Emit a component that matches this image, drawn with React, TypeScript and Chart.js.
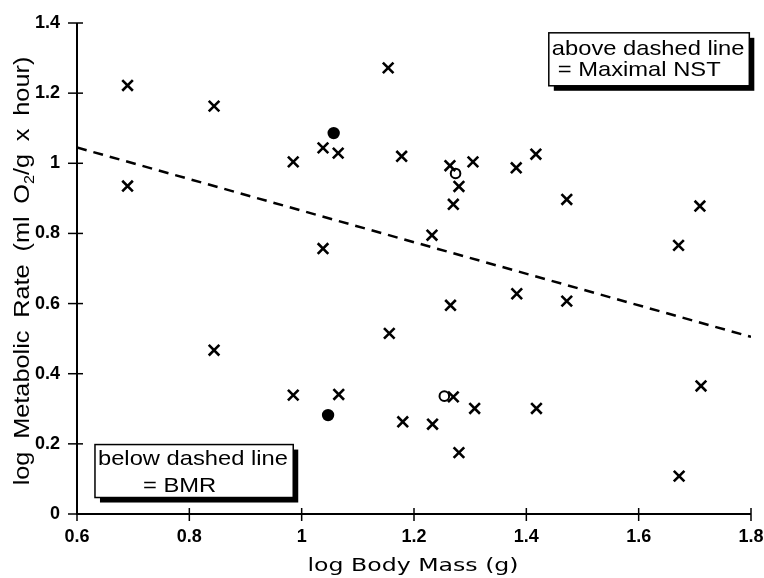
import { useEffect, useRef } from "react";
import { Chart, registerables } from "chart.js";

Chart.register(...registerables);

// ---- data ----
const crossMass = [
  0.69, 0.69, 0.844, 0.844, 0.985, 0.985, 1.038, 1.038, 1.065, 1.066, 1.154, 1.156,
  1.178, 1.18, 1.232, 1.233, 1.264, 1.27, 1.28, 1.265, 1.27, 1.28, 1.305, 1.308,
  1.382, 1.383, 1.417, 1.418, 1.472, 1.472, 1.671, 1.672, 1.709, 1.711,
];
const crossRate = [
  1.222, 0.935, 1.163, 0.467, 1.004, 0.339, 1.044, 0.757, 1.029, 0.341, 1.272, 0.515,
  1.02, 0.263, 0.795, 0.256, 0.993, 0.883, 0.934, 0.595, 0.334, 0.175, 1.004, 0.301,
  0.987, 0.628, 1.026, 0.301, 0.897, 0.607, 0.766, 0.108, 0.878, 0.365,
];
const filledMass = [1.057, 1.047];
const filledRate = [1.086, 0.282];
const openMass = [1.274, 1.254];
const openRate = [0.971, 0.336];
const lineMass = [0.6, 1.8];
const lineRate = [1.045, 0.505];

const xTickValues = [0.6, 0.8, 1, 1.2, 1.4, 1.6, 1.8];
const yTickValues = [0, 0.2, 0.4, 0.6, 0.8, 1, 1.2, 1.4];

const xTitle = "log Body Mass (g)";
const yTitle = "log Metabolic Rate (ml O_2/g x hour)";

const noteAboveLines = ["above dashed line", "= Maximal NST"];
const noteAboveCorners = [1.44, 1.372, 1.797, 1.221]; // x0, y0, x1, y1 in data units
const noteBelowLines = ["below dashed line", "= BMR"];
const noteBelowCorners = [0.632, 0.198, 0.985, 0.047];

const pts = (xs: number[], ys: number[]) => xs.map((x, i) => ({ x, y: ys[i] }));

function drawStretched(ctx: CanvasRenderingContext2D, text: string, x: number, y: number, font: string, sx: number, align: CanvasTextAlign) {
  ctx.save();
  ctx.translate(x, y);
  ctx.scale(sx, 1);
  ctx.font = font;
  ctx.textAlign = align;
  ctx.textBaseline = "alphabetic";
  ctx.fillText(text, 0, 0);
  ctx.restore();
}

const decorPlugin = {
  id: "decor",
  afterDraw(chart: any) {
    const ctx: CanvasRenderingContext2D = chart.ctx;
    const xs = chart.scales.x;
    const ys = chart.scales.y;
    const ca = chart.chartArea;
    ctx.save();
    ctx.strokeStyle = "#000";
    ctx.fillStyle = "#000";

    // axis lines
    ctx.lineWidth = 2;
    ctx.beginPath();
    ctx.moveTo(ca.left, ca.top);
    ctx.lineTo(ca.left, ca.bottom);
    ctx.lineTo(ca.right, ca.bottom);
    ctx.stroke();

    // tick marks crossing the axes
    ctx.lineWidth = 1.5;
    for (const v of yTickValues) {
      const py = ys.getPixelForValue(v);
      ctx.beginPath();
      ctx.moveTo(ca.left - 9, py);
      ctx.lineTo(ca.left + 6, py);
      ctx.stroke();
    }
    for (const v of xTickValues) {
      const px = xs.getPixelForValue(v);
      ctx.beginPath();
      ctx.moveTo(px, ca.bottom - 6);
      ctx.lineTo(px, ca.bottom + 7);
      ctx.stroke();
    }

    // x title
    drawStretched(ctx, xTitle, (ca.left + ca.right) / 2 - 1, 571, '17px "DejaVu Sans"', 1.39, "center");

    // y title (rotated, with subscript)
    const size = 22;
    const sx = 1.15;
    const extraGap = 5;
    const words = yTitle.split(" ").map((w) => {
      const parts: { t: string; sub: boolean }[] = [];
      const re = /_(\d)/g;
      let last = 0;
      let m: RegExpExecArray | null;
      while ((m = re.exec(w))) {
        if (m.index > last) parts.push({ t: w.slice(last, m.index), sub: false });
        parts.push({ t: m[1], sub: true });
        last = m.index + m[0].length;
      }
      if (last < w.length) parts.push({ t: w.slice(last), sub: false });
      return parts;
    });
    const fontFor = (sub: boolean) => `${sub ? Math.round(size * 0.65) : size}px "Liberation Sans"`;
    ctx.font = fontFor(false);
    const spaceW = ctx.measureText(" ").width + extraGap;
    let total = 0;
    words.forEach((w, i) => {
      w.forEach((p) => {
        ctx.font = fontFor(p.sub);
        total += ctx.measureText(p.t).width;
      });
      if (i < words.length - 1) total += spaceW;
    });
    ctx.save();
    ctx.translate(28.5, 271);
    ctx.rotate(-Math.PI / 2);
    ctx.scale(sx, 1);
    ctx.textAlign = "left";
    ctx.textBaseline = "alphabetic";
    let cur = -total / 2;
    words.forEach((w, i) => {
      w.forEach((p) => {
        ctx.font = fontFor(p.sub);
        ctx.fillText(p.t, cur, p.sub ? 5 : 0);
        cur += ctx.measureText(p.t).width;
      });
      if (i < words.length - 1) cur += spaceW;
    });
    ctx.restore();

    // note boxes
    const drawNote = (corners: number[], lines: string[], offs: number[][]) => {
      const x0 = xs.getPixelForValue(corners[0]);
      const y0 = ys.getPixelForValue(corners[1]);
      const x1 = xs.getPixelForValue(corners[2]);
      const y1 = ys.getPixelForValue(corners[3]);
      const w = x1 - x0;
      const h = y1 - y0;
      ctx.fillStyle = "#000";
      ctx.fillRect(x0 + 5, y0 + 5, w, h);
      ctx.fillStyle = "#fff";
      ctx.fillRect(x0, y0, w, h);
      ctx.lineWidth = 1.5;
      ctx.strokeStyle = "#000";
      ctx.strokeRect(x0, y0, w, h);
      ctx.fillStyle = "#000";
      lines.forEach((t, i) => {
        drawStretched(ctx, t, x0 + offs[i][0], y0 + offs[i][1], '21px "Liberation Sans"', 1.13, "left");
      });
    };
    drawNote(noteAboveCorners, noteAboveLines, [[3, 22], [9, 43]]);
    drawNote(noteBelowCorners, noteBelowLines, [[3, 20], [48, 47.5]]);

    ctx.restore();
  },
};

export default function App() {
  const ref = useRef<HTMLCanvasElement>(null);
  useEffect(() => {
    const canvas = ref.current;
    if (!canvas) return;
    const tickFont = { family: '"Liberation Sans", Arial, sans-serif', size: 18, weight: "bold" as const };
    const chart = new Chart(canvas, {
      type: "scatter",
      data: {
        datasets: [
          {
            type: "line",
            data: pts(lineMass, lineRate),
            borderColor: "#000",
            borderWidth: 2.5,
            borderDash: [10, 7],
            pointRadius: 0,
            fill: false,
            tension: 0,
          } as any,
          {
            data: pts(crossMass, crossRate),
            pointStyle: "crossRot",
            pointRadius: 7.5,
            borderColor: "#000",
            backgroundColor: "#000",
            borderWidth: 2.6,
          },
          {
            data: pts(filledMass, filledRate),
            pointStyle: "circle",
            pointRadius: 6.2,
            backgroundColor: "#000",
            borderColor: "#000",
            borderWidth: 0,
          },
          {
            data: pts(openMass, openRate),
            pointStyle: "circle",
            pointRadius: 4.8,
            backgroundColor: "rgba(0,0,0,0)",
            borderColor: "#000",
            borderWidth: 2,
          },
        ],
      },
      options: {
        animation: false,
        responsive: false,
        events: [],
        layout: { padding: { top: 23, right: 13, left: 0, bottom: 0 } },
        plugins: { legend: { display: false }, tooltip: { enabled: false } },
        scales: {
          x: {
            type: "linear",
            min: 0.6,
            max: 1.8,
            afterBuildTicks: (s: any) => {
              s.ticks = xTickValues.map((v) => ({ value: v }));
            },
            afterFit: (s: any) => {
              s.height = 64;
              s.paddingLeft = 0;
              s.paddingRight = 0;
            },
            grid: { display: false },
            border: { display: false },
            ticks: {
              color: "#000",
              font: tickFont,
              padding: 4,
              maxRotation: 0,
              autoSkip: false,
              callback: (v: any) => String(v),
            },
          },
          y: {
            type: "linear",
            min: 0,
            max: 1.4,
            afterBuildTicks: (s: any) => {
              s.ticks = yTickValues.map((v) => ({ value: v }));
            },
            afterFit: (s: any) => {
              s.width = 77;
              s.paddingTop = 0;
              s.paddingBottom = 0;
            },
            grid: { display: false },
            border: { display: false },
            ticks: {
              color: "#000",
              font: tickFont,
              padding: 9,
              autoSkip: false,
              callback: (v: any) => String(v),
            },
          },
        },
      },
      plugins: [decorPlugin],
    });
    return () => chart.destroy();
  }, []);
  return (
    <div style={{ position: "absolute", left: 0, top: 0, width: 764, height: 578, background: "#fff" }}>
      <canvas ref={ref} width={764} height={578} style={{ display: "block" }} />
    </div>
  );
}
